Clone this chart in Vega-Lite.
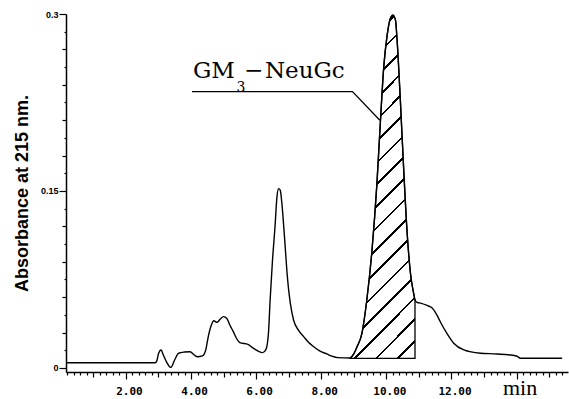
{
  "$schema": "https://vega.github.io/schema/vega-lite/v6.json",
  "width": 502,
  "height": 358,
  "autosize": "none",
  "padding": {"left": 66, "top": 14, "right": 1, "bottom": 27},
  "background": "white",
  "config": {
    "view": {"stroke": null},
    "axis": {"grid": false, "domainColor": "black", "tickColor": "black", "labelColor": "black", "titleColor": "black", "domainWidth": 1.5, "tickWidth": 1.2}
  },
  "datasets": {
    "trace": [
      {"t": 0.16, "a": 0.0045}, {"t": 2.9, "a": 0.0045}, {"t": 2.95, "a": 0.006}, {"t": 3.0, "a": 0.012},
      {"t": 3.08, "a": 0.0153}, {"t": 3.15, "a": 0.011}, {"t": 3.25, "a": 0.005}, {"t": 3.38, "a": 0.0005},
      {"t": 3.5, "a": 0.007}, {"t": 3.62, "a": 0.0125}, {"t": 3.8, "a": 0.0135}, {"t": 3.97, "a": 0.0138},
      {"t": 4.1, "a": 0.011}, {"t": 4.2, "a": 0.0095}, {"t": 4.35, "a": 0.0102}, {"t": 4.45, "a": 0.015},
      {"t": 4.53, "a": 0.0266}, {"t": 4.62, "a": 0.036}, {"t": 4.7, "a": 0.04}, {"t": 4.8, "a": 0.0387},
      {"t": 4.9, "a": 0.0415}, {"t": 5.0, "a": 0.0435}, {"t": 5.1, "a": 0.042}, {"t": 5.2, "a": 0.036},
      {"t": 5.3, "a": 0.0308}, {"t": 5.4, "a": 0.025}, {"t": 5.5, "a": 0.0215}, {"t": 5.75, "a": 0.02},
      {"t": 5.9, "a": 0.017}, {"t": 6.05, "a": 0.0145}, {"t": 6.2, "a": 0.013}, {"t": 6.3, "a": 0.0155},
      {"t": 6.38, "a": 0.03}, {"t": 6.43, "a": 0.0576}, {"t": 6.5, "a": 0.09}, {"t": 6.58, "a": 0.1197},
      {"t": 6.64, "a": 0.145}, {"t": 6.69, "a": 0.152}, {"t": 6.74, "a": 0.1508}, {"t": 6.79, "a": 0.14},
      {"t": 6.84, "a": 0.123}, {"t": 6.9, "a": 0.1}, {"t": 6.95, "a": 0.0805}, {"t": 7.0, "a": 0.066},
      {"t": 7.05, "a": 0.055}, {"t": 7.15, "a": 0.0407}, {"t": 7.3, "a": 0.032}, {"t": 7.46, "a": 0.0266},
      {"t": 7.6, "a": 0.022}, {"t": 7.77, "a": 0.018}, {"t": 7.95, "a": 0.0145}, {"t": 8.17, "a": 0.0119},
      {"t": 8.35, "a": 0.0098}, {"t": 8.5, "a": 0.0088}, {"t": 8.89, "a": 0.0085}, {"t": 9.0, "a": 0.012},
      {"t": 9.1, "a": 0.018}, {"t": 9.25, "a": 0.0294}, {"t": 9.4, "a": 0.0576}, {"t": 9.56, "a": 0.1},
      {"t": 9.71, "a": 0.156}, {"t": 9.82, "a": 0.21}, {"t": 9.92, "a": 0.255}, {"t": 10.02, "a": 0.281},
      {"t": 10.12, "a": 0.296}, {"t": 10.2, "a": 0.299}, {"t": 10.28, "a": 0.295}, {"t": 10.33, "a": 0.278},
      {"t": 10.43, "a": 0.227}, {"t": 10.53, "a": 0.17}, {"t": 10.64, "a": 0.114}, {"t": 10.74, "a": 0.0805},
      {"t": 10.84, "a": 0.063}, {"t": 10.88, "a": 0.0576}, {"t": 10.95, "a": 0.0555}, {"t": 11.05, "a": 0.055},
      {"t": 11.25, "a": 0.053}, {"t": 11.4, "a": 0.051}, {"t": 11.55, "a": 0.045}, {"t": 11.66, "a": 0.039},
      {"t": 11.87, "a": 0.029}, {"t": 12.07, "a": 0.021}, {"t": 12.38, "a": 0.0153}, {"t": 12.89, "a": 0.0125},
      {"t": 13.4, "a": 0.0119}, {"t": 14.0, "a": 0.0102}, {"t": 14.12, "a": 0.0082}, {"t": 15.4, "a": 0.0082}
    ],
    "hatch": [
      {"t": 8.89, "a": 0.0085}, {"t": 9.0, "a": 0.012}, {"t": 9.1, "a": 0.018}, {"t": 9.25, "a": 0.0294},
      {"t": 9.4, "a": 0.0576}, {"t": 9.56, "a": 0.1}, {"t": 9.71, "a": 0.156}, {"t": 9.82, "a": 0.21},
      {"t": 9.92, "a": 0.255}, {"t": 10.02, "a": 0.281}, {"t": 10.12, "a": 0.296}, {"t": 10.2, "a": 0.299},
      {"t": 10.28, "a": 0.295}, {"t": 10.33, "a": 0.278}, {"t": 10.43, "a": 0.227}, {"t": 10.53, "a": 0.17},
      {"t": 10.64, "a": 0.114}, {"t": 10.74, "a": 0.0805}, {"t": 10.84, "a": 0.063}, {"t": 10.88, "a": 0.0576}
    ],
    "leader": [
      {"i": 1, "t": 4.03, "a": 0.2342},
      {"i": 2, "t": 8.96, "a": 0.2342},
      {"i": 3, "t": 9.8, "a": 0.21}
    ],
    "label": [
      {"t": 4.06, "a": 0.2458, "s": "GM"},
      {"t": 5.63, "a": 0.2458, "s": "−"},
      {"t": 6.27, "a": 0.2458, "s": "NeuGc"}
    ],
    "sub": [
      {"t": 5.4, "a": 0.2339, "s": "3"}
    ]
  },
  "encoding": {
    "x": {
      "field": "t", "type": "quantitative",
      "scale": {"domain": [0.16, 15.58], "nice": false, "zero": false},
      "axis": {
        "title": null,
        "values": [0.2,0.4,0.6,0.8,1,1.2,1.4,1.6,1.8,2,2.2,2.4,2.6,2.8,3,3.2,3.4,3.6,3.8,4,4.2,4.4,4.6,4.8,5,5.2,5.4,5.6,5.8,6,6.2,6.4,6.6,6.8,7,7.2,7.4,7.6,7.8,8,8.2,8.4,8.6,8.8,9,9.2,9.4,9.6,9.8,10,10.2,10.4,10.6,10.8,11,11.2,11.4,11.6,11.8,12,12.2,12.4,12.6,12.8,13,13.2,13.4,13.6,13.8,14,14.2,14.4,14.6,14.8,15,15.2,15.4],
        "tickSize": {"condition": [
          {"test": "abs(datum.value/2-round(datum.value/2))<0.005", "value": 7},
          {"test": "abs(datum.value-round(datum.value))<0.01", "value": 5}
        ], "value": 3},
        "labelExpr": "abs(datum.value-14)<0.01 ? 'min' : ((abs(datum.value/2-round(datum.value/2))<0.005 && datum.value>1 && datum.value<13) ? format(datum.value,'.2f') : '')",
        "labelOverlap": false,
        "labelFlush": false,
        "labelFont": {"condition": {"test": "abs(datum.value-14)<0.01", "value": "Liberation Serif"}, "value": "DejaVu Sans Mono"},
        "labelFontSize": {"condition": {"test": "abs(datum.value-14)<0.01", "value": 22}, "value": 11},
        "labelFontWeight": {"condition": {"test": "abs(datum.value-14)<0.01", "value": "normal"}, "value": "bold"},
        "labelBaseline": "alphabetic",
        "labelPadding": 15,
        "labelOffset": 3
      }
    },
    "y": {
      "field": "a", "type": "quantitative",
      "scale": {"domain": [-0.0034, 0.3], "nice": false, "zero": false},
      "axis": {
        "values": [0,0.015,0.03,0.045,0.06,0.075,0.09,0.105,0.12,0.135,0.15,0.165,0.18,0.195,0.21,0.225,0.24,0.255,0.27,0.285,0.3],
        "tickSize": {"condition": [
          {"test": "abs(datum.value/0.15-round(datum.value/0.15))<0.01", "value": 7},
          {"test": "abs(datum.value/0.03-round(datum.value/0.03))<0.01", "value": 4}
        ], "value": 2},
        "labelExpr": "abs(datum.value)<0.001 ? '0' : (abs(datum.value-0.15)<0.001 ? '0.15' : (abs(datum.value-0.3)<0.001 ? '0.3' : ''))",
        "labelOverlap": false,
        "labelFlush": false,
        "labelFont": "Liberation Sans",
        "labelFontWeight": "bold",
        "labelFontSize": 9,
        "labelPadding": 1,
        "title": "Absorbance at 215 nm.",
        "titleFont": "Liberation Sans",
        "titleFontSize": 18,
        "titleFontWeight": "bold",
        "titleX": -44,
        "titleY": 179,
        "titleAngle": -90,
        "titleAlign": "center",
        "titleBaseline": "middle"
      }
    }
  },
  "layer": [
    {
      "data": {"name": "hatch"},
      "mark": {
        "type": "area",
        "interpolate": "monotone",
        "stroke": "black",
        "strokeWidth": 1.3,
        "fill": {
          "gradient": "linear", "x1": 0, "y1": 0, "x2": 0.218, "y2": 1.1485,
          "stops": [
            {"offset": 0, "color": "#ffffff"},
            {"offset": 0.053, "color": "#ffffff"}, {"offset": 0.053, "color": "#000000"}, {"offset": 0.0595, "color": "#000000"}, {"offset": 0.0595, "color": "#ffffff"},
            {"offset": 0.106, "color": "#ffffff"}, {"offset": 0.106, "color": "#000000"}, {"offset": 0.1125, "color": "#000000"}, {"offset": 0.1125, "color": "#ffffff"},
            {"offset": 0.159, "color": "#ffffff"}, {"offset": 0.159, "color": "#000000"}, {"offset": 0.1655, "color": "#000000"}, {"offset": 0.1655, "color": "#ffffff"},
            {"offset": 0.212, "color": "#ffffff"}, {"offset": 0.212, "color": "#000000"}, {"offset": 0.2185, "color": "#000000"}, {"offset": 0.2185, "color": "#ffffff"},
            {"offset": 0.265, "color": "#ffffff"}, {"offset": 0.265, "color": "#000000"}, {"offset": 0.2715, "color": "#000000"}, {"offset": 0.2715, "color": "#ffffff"},
            {"offset": 0.318, "color": "#ffffff"}, {"offset": 0.318, "color": "#000000"}, {"offset": 0.3245, "color": "#000000"}, {"offset": 0.3245, "color": "#ffffff"},
            {"offset": 0.371, "color": "#ffffff"}, {"offset": 0.371, "color": "#000000"}, {"offset": 0.3775, "color": "#000000"}, {"offset": 0.3775, "color": "#ffffff"},
            {"offset": 0.424, "color": "#ffffff"}, {"offset": 0.424, "color": "#000000"}, {"offset": 0.4305, "color": "#000000"}, {"offset": 0.4305, "color": "#ffffff"},
            {"offset": 0.477, "color": "#ffffff"}, {"offset": 0.477, "color": "#000000"}, {"offset": 0.4835, "color": "#000000"}, {"offset": 0.4835, "color": "#ffffff"},
            {"offset": 0.53, "color": "#ffffff"}, {"offset": 0.53, "color": "#000000"}, {"offset": 0.5365, "color": "#000000"}, {"offset": 0.5365, "color": "#ffffff"},
            {"offset": 0.583, "color": "#ffffff"}, {"offset": 0.583, "color": "#000000"}, {"offset": 0.5895, "color": "#000000"}, {"offset": 0.5895, "color": "#ffffff"},
            {"offset": 0.636, "color": "#ffffff"}, {"offset": 0.636, "color": "#000000"}, {"offset": 0.6425, "color": "#000000"}, {"offset": 0.6425, "color": "#ffffff"},
            {"offset": 0.689, "color": "#ffffff"}, {"offset": 0.689, "color": "#000000"}, {"offset": 0.6955, "color": "#000000"}, {"offset": 0.6955, "color": "#ffffff"},
            {"offset": 0.742, "color": "#ffffff"}, {"offset": 0.742, "color": "#000000"}, {"offset": 0.7485, "color": "#000000"}, {"offset": 0.7485, "color": "#ffffff"},
            {"offset": 0.795, "color": "#ffffff"}, {"offset": 0.795, "color": "#000000"}, {"offset": 0.8015, "color": "#000000"}, {"offset": 0.8015, "color": "#ffffff"},
            {"offset": 0.848, "color": "#ffffff"}, {"offset": 0.848, "color": "#000000"}, {"offset": 0.8545, "color": "#000000"}, {"offset": 0.8545, "color": "#ffffff"},
            {"offset": 0.901, "color": "#ffffff"}, {"offset": 0.901, "color": "#000000"}, {"offset": 0.9075, "color": "#000000"}, {"offset": 0.9075, "color": "#ffffff"},
            {"offset": 0.954, "color": "#ffffff"}, {"offset": 0.954, "color": "#000000"}, {"offset": 0.9605, "color": "#000000"}, {"offset": 0.9605, "color": "#ffffff"},
            {"offset": 1, "color": "#ffffff"}
          ]
        }
      },
      "encoding": {"y2": {"datum": 0.0082}}
    },
    {
      "data": {"name": "trace"},
      "mark": {"type": "line", "interpolate": "monotone", "color": "black", "strokeWidth": 1.4}
    },
    {
      "data": {"name": "leader"},
      "mark": {"type": "line", "color": "black", "strokeWidth": 1.3},
      "encoding": {"order": {"field": "i", "type": "quantitative"}}
    },
    {
      "data": {"name": "label"},
      "mark": {"type": "text", "align": "left", "baseline": "alphabetic", "font": "DejaVu Serif", "fontSize": 23, "fill": "black"},
      "encoding": {"text": {"field": "s", "type": "nominal"}}
    },
    {
      "data": {"name": "sub"},
      "mark": {"type": "text", "align": "left", "baseline": "alphabetic", "font": "DejaVu Serif", "fontSize": 14, "fill": "black"},
      "encoding": {"text": {"field": "s", "type": "nominal"}}
    }
  ]
}
